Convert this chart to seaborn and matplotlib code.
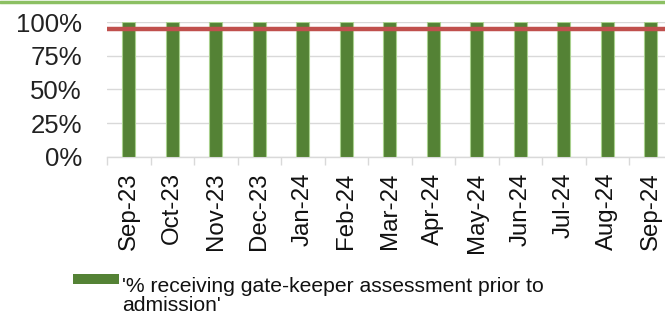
import matplotlib
matplotlib.use("Agg")
import matplotlib.pyplot as plt
import seaborn as sns
import pandas as pd
from matplotlib.patches import Patch, Rectangle
from matplotlib.lines import Line2D
from matplotlib.legend_handler import HandlerPatch
from matplotlib.ticker import FixedLocator, PercentFormatter

months = ["Sep-23", "Oct-23", "Nov-23", "Dec-23", "Jan-24", "Feb-24", "Mar-24",
          "Apr-24", "May-24", "Jun-24", "Jul-24", "Aug-24", "Sep-24"]
pct_gatekeeper = [100, 100, 100, 100, 100, 100, 100, 100, 100, 100, 100, 100, 100]
target = 95
series_label_lines = ["'% receiving gate-keeper assessment prior to", "admission'"]
y_ticks = [0, 25, 50, 75, 100]

sns.set_theme(style="white")
plt.rcParams["font.family"] = ["Liberation Sans", "DejaVu Sans"]

df = pd.DataFrame({"month": months, "pct": pct_gatekeeper})

fig = plt.figure(figsize=(6.65, 3.21), dpi=100)
ax = fig.add_axes([107 / 665, 1 - 157 / 321, 565.5 / 665, 135 / 321])

sns.barplot(data=df, x="month", y="pct", ax=ax, color="#548235",
            width=0.3, saturation=1, edgecolor="#A9D18E", linewidth=0.8,
            zorder=3)

ax.axhline(target, color="#C0504D", linewidth=3.2, zorder=4)

ax.set_ylim(0, 100)
ax.set_xlim(-0.5, len(months) - 0.5)
ax.yaxis.set_major_locator(FixedLocator(y_ticks))
ax.yaxis.set_major_formatter(PercentFormatter(decimals=0))
ax.grid(axis="y", color="#D9D9D9", linewidth=1, zorder=0)
ax.set_xlabel("")
ax.set_ylabel("")

for side in ["top", "right", "left"]:
    ax.spines[side].set_visible(False)
ax.spines["bottom"].set_color("#D9D9D9")
ax.spines["bottom"].set_linewidth(1)

ax.tick_params(axis="y", length=0, pad=18, labelsize=18.5, labelcolor="#222222")
ax.tick_params(axis="x", which="major", length=0, pad=11, labelsize=17.3,
               labelrotation=90, labelcolor="#111111")
ax.set_xticks([i - 0.5 for i in range(len(months) + 1)], minor=True)
ax.tick_params(axis="x", which="minor", length=6, width=1, color="#D9D9D9",
               bottom=True)


def raised_swatch(legend, orig_handle, xdescent, ydescent, width, height, fontsize):
    # swatch lifted a little so it lines up with the middle of the lowercase text
    return Rectangle((-xdescent, -ydescent + 0.25 * fontsize), width, height)


# Legend: the series swatch sits beside the first line of its wrapped label
swatch = Patch(facecolor="#548235", edgecolor="#548235", linewidth=0)
blank = Patch(facecolor="none", edgecolor="none", linewidth=0)
fig.legend([swatch, blank], series_label_lines, loc="upper left",
           bbox_to_anchor=(73 / 665, 1 - 277 / 321), frameon=False,
           fontsize=15.2, handlelength=2.2, handleheight=0.33,
           handletextpad=0.12, labelspacing=0.02, borderpad=0,
           borderaxespad=0, labelcolor="#111111",
           handler_map={Patch: HandlerPatch(patch_func=raised_swatch)})

fig.add_artist(Line2D([0, 1], [1 - 1.5 / 321, 1 - 1.5 / 321],
                      transform=fig.transFigure, color="#8CC063",
                      linewidth=2.5))

fig.savefig("out.png", dpi=100)
